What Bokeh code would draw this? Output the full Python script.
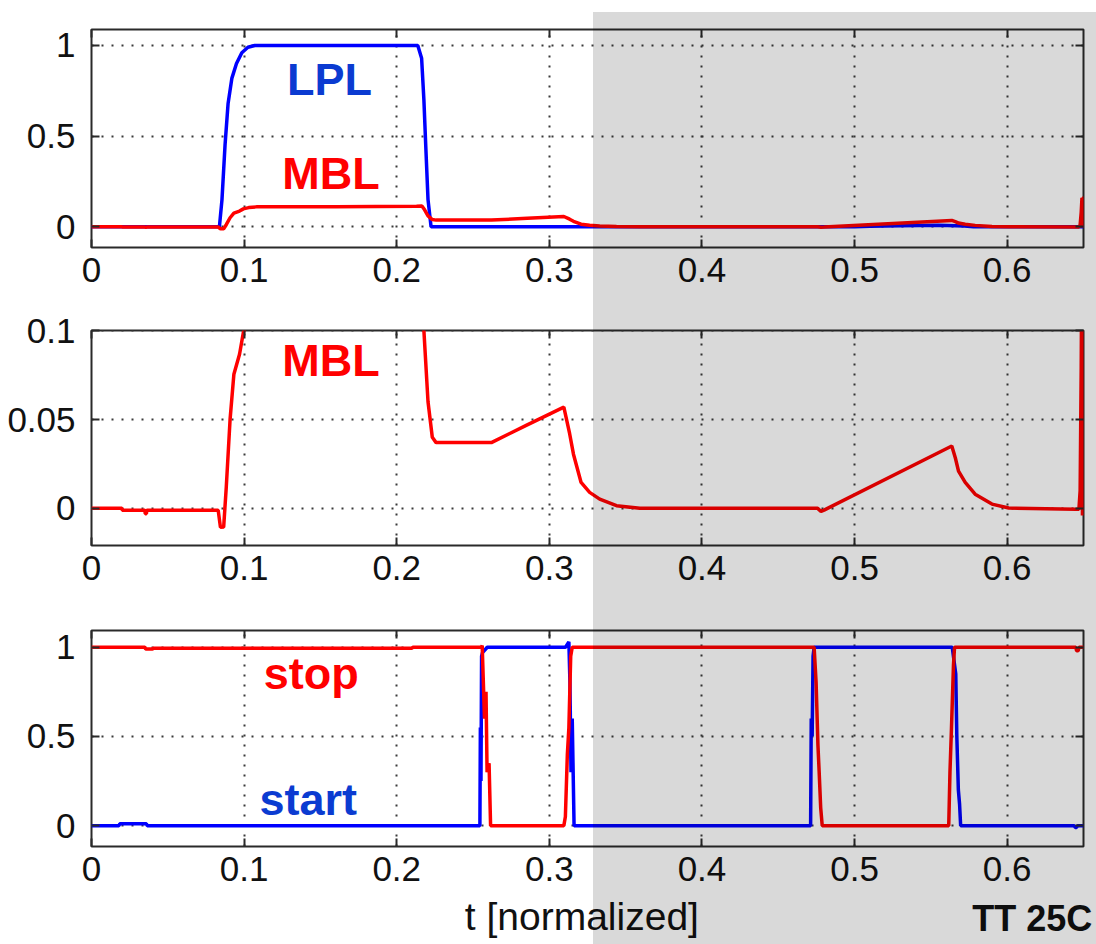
from bokeh.plotting import figure
from bokeh.layouts import column
from bokeh.models import (Label, LinearAxis, FixedTicker, InlineStyleSheet,
                          NumeralTickFormatter, CustomJSTickFormatter, Range1d)
from bokeh.embed import file_html
from bokeh.resources import INLINE

# ---------------- data ----------------
x_ticks = [0, 0.1, 0.2, 0.3, 0.4, 0.5, 0.6]
y_ticks_12 = [0, 0.5, 1]
y_ticks_mid = [0, 0.05, 0.1]

# panel 1 : LPL (blue)
t_lpl = [0, 0.0838, 0.0855, 0.0875, 0.0895, 0.092, 0.095, 0.0985, 0.1025, 0.107,
         0.2138, 0.2163, 0.2178, 0.219, 0.2205, 0.2225, 0.5, 0.51, 0.53, 0.555,
         0.572, 0.578, 0.65]
lpl = [0, 0, 0.15, 0.45, 0.68, 0.82, 0.9, 0.96, 0.99, 1.0,
       1.0, 0.93, 0.7, 0.45, 0.15, 0.0, 0.0, 0.003, 0.006, 0.008,
       0.005, 0.0, 0.0]

# panels 1 & 2 : MBL (red)
t_mbl = [0, 0.02, 0.0201, 0.035, 0.0352, 0.036, 0.0362, 0.083, 0.0845, 0.0866,
         0.0883, 0.0908, 0.0933, 0.097, 0.0995, 0.103, 0.108, 0.16, 0.213, 0.2165,
         0.2178, 0.2205, 0.2233, 0.2258, 0.262, 0.2855, 0.3095, 0.3133, 0.3158, 0.3208,
         0.3264, 0.333, 0.344, 0.3593, 0.4758, 0.478, 0.48, 0.5637, 0.566, 0.5681,
         0.5725, 0.579, 0.59, 0.601, 0.645, 0.647, 0.6478, 0.6485, 0.649, 0.6493,
         0.6497, 0.65]
mbl = [0, 0, -0.001, -0.001, -0.003, -0.003, -0.001, -0.001, -0.0107, -0.0105,
       0.0118, 0.05, 0.0755, 0.0867, 0.099, 0.106, 0.11, 0.111, 0.113, 0.115,
       0.1, 0.06, 0.04, 0.037, 0.037, 0.047, 0.057, 0.042, 0.0305, 0.0146,
       0.009, 0.0052, 0.0015, 0.0, 0.0, -0.0017, -0.001, 0.0351, 0.0285, 0.021,
       0.0146, 0.008, 0.0024, 0.0002, -0.0005, -0.0005, 0.01, 0.08, 0.16, -0.004,
       0.16, 0.16]

# panel 3 : start (blue) and stop (red)
t_start = [0, 0.018, 0.0185, 0.036, 0.0365, 0.2545, 0.2548, 0.2552, 0.2556, 0.2562,
           0.2593, 0.3106, 0.3128, 0.3135, 0.3142, 0.315, 0.3162, 0.4712, 0.4716, 0.4722,
           0.4728, 0.4735, 0.564, 0.5663, 0.567, 0.568, 0.5688, 0.5695, 0.644, 0.6445,
           0.6455, 0.646, 0.65]
start = [0, 0, 0.01, 0.01, 0, 0, 0.55, 0.25, 0.95, 0.97,
         1.0, 1.0, 1.03, 0.8, 0.3, 0.6, 0.0, 0.0, 0.6, 0.5,
         0.95, 1.0, 1.0, 0.85, 0.5, 0.2, 0.12, 0.0, 0.0, -0.01,
         -0.01, 0.0, 0.0]

t_stop = [0, 0.035, 0.0355, 0.04, 0.0405, 0.21, 0.2105, 0.2555, 0.256, 0.2575,
          0.2585, 0.2592, 0.2605, 0.2615, 0.3095, 0.3105, 0.3118, 0.3128, 0.314, 0.315,
          0.4735, 0.4748, 0.476, 0.4768, 0.4778, 0.4788, 0.5617, 0.5625, 0.5635, 0.5648,
          0.5655, 0.645, 0.6455, 0.6465, 0.647, 0.65]
stop = [1.0, 1.0, 0.99, 0.99, 0.995, 0.995, 1.0, 1.0, 1.01, 0.6,
        0.75, 0.3, 0.35, 0.0, 0.0, 0.05, 0.4, 0.55, 0.95, 1.0,
        1.0, 0.8, 0.45, 0.3, 0.1, 0.0, 0.0, 0.3, 0.55, 0.9,
        1.0, 1.0, 0.98, 0.98, 1.0, 1.0]

BLUE = "#0000ff"
RED = "#ff0000"
BLUE_TXT = "#0b3bd1"
RED_TXT = "#ff0000"
FONT = "Liberation Sans"
W = 1096
LW = 3.5


def style_axis(ax, ticks, fmt, standoff, hide=False):
    ax.ticker = FixedTicker(ticks=ticks)
    ax.formatter = CustomJSTickFormatter(code="return ''") if hide else fmt
    ax.major_tick_in = 8
    ax.major_tick_out = 0
    ax.minor_tick_line_color = None
    ax.axis_line_color = None
    ax.major_tick_line_color = "#2a2a2a"
    ax.major_tick_line_width = 2
    ax.major_label_text_font = FONT
    ax.major_label_text_font_size = "35px"
    ax.major_label_text_color = "#111111"
    ax.major_label_standoff = 0 if hide else standoff


def make_fig(y0, y1, yticks, yfmt, top, fh, bottom):
    p = figure(frame_width=992, frame_height=fh, min_border_left=91,
               min_border_right=13, min_border_top=top, min_border_bottom=bottom,
               x_range=Range1d(0, 0.65), y_range=Range1d(y0, y1),
               output_backend="svg", toolbar_location=None)
    p.background_fill_color = "white"
    p.border_fill_color = "white"
    p.outline_line_color = "#2a2a2a"
    p.outline_line_width = 2
    xf = NumeralTickFormatter(format="0.[0]")
    style_axis(p.xaxis[0], x_ticks, xf, 10)
    style_axis(p.yaxis[0], yticks, yfmt, 16)
    ax_top = LinearAxis()
    style_axis(ax_top, x_ticks, xf, 0, hide=True)
    p.add_layout(ax_top, "above")
    ax_right = LinearAxis()
    style_axis(ax_right, yticks, yfmt, 0, hide=True)
    p.add_layout(ax_right, "right")
    for g, tk in ((p.xgrid[0], x_ticks), (p.ygrid[0], yticks)):
        g.ticker = FixedTicker(ticks=tk)
        g.grid_line_color = "#3a3a3a"
        g.grid_line_dash = "2 8"
        g.grid_line_width = 2
    return p


def label(p, x, y, text, color, size="45px", bold=True, align="center"):
    p.add_layout(Label(x=x, y=y, text=text, text_color=color, text_font=FONT,
                       text_font_size=size,
                       text_font_style="bold" if bold else "normal",
                       text_align=align, text_baseline="alphabetic"))


f12 = NumeralTickFormatter(format="0.[0]")
fmid = NumeralTickFormatter(format="0.[00]")

# panel 1
p1 = make_fig(-0.114, 1.088, y_ticks_12, f12, 29, 218, 53)
p1.line(t_lpl, lpl, line_color=BLUE, line_width=LW)
p1.line(t_mbl, mbl, line_color=RED, line_width=LW)
label(p1, 0.156, 0.812, "LPL", BLUE_TXT)
label(p1, 0.157, 0.292, "MBL", RED_TXT)

# panel 2
p2 = make_fig(-0.0209, 0.1001, y_ticks_mid, fmid, 30, 215, 55)
p2.line(t_mbl, mbl, line_color=RED, line_width=LW)
label(p2, 0.157, 0.0832, "MBL", RED_TXT)

# panel 3
p3 = make_fig(-0.117, 1.094, y_ticks_12, f12, 30, 216, 50)
p3.line(t_start, start, line_color=BLUE, line_width=LW)
p3.line(t_stop, stop, line_color=RED, line_width=LW)
label(p3, 0.144, 0.852, "stop", RED_TXT)
label(p3, 0.142, 0.147, "start", BLUE_TXT)

# bottom strip holding the axis title and the corner note (same t scale)
px_t = 0.65 / 992
p4 = figure(frame_width=W - 91, frame_height=48, min_border_left=91,
            min_border_right=0, min_border_top=0, min_border_bottom=0,
            x_range=Range1d(0, (W - 91) * px_t), y_range=Range1d(0, 48),
            x_axis_type=None, y_axis_type=None,
            output_backend="svg", toolbar_location=None)
p4.outline_line_color = None
p4.grid.visible = False
p4.background_fill_color = "white"
p4.border_fill_color = "white"
label(p4, 0.3213, 28, "t [normalized]", "#111111", size="39px", bold=False)
label(p4, 0.6558, 26, "TT 25C", "#111111", size="36px", bold=True, align="right")

css = InlineStyleSheet(css="""
:host { position: relative; }
:host::after {
  content: ""; position: absolute; left: 593px; top: 12px;
  width: 503px; height: 932px; background: rgba(0,0,0,0.15);
  pointer-events: none; z-index: 1000;
}
""")

layout = column(p1, p2, p3, p4, spacing=0, stylesheets=[css])
open("out.html", "w").write(file_html(layout, INLINE))
